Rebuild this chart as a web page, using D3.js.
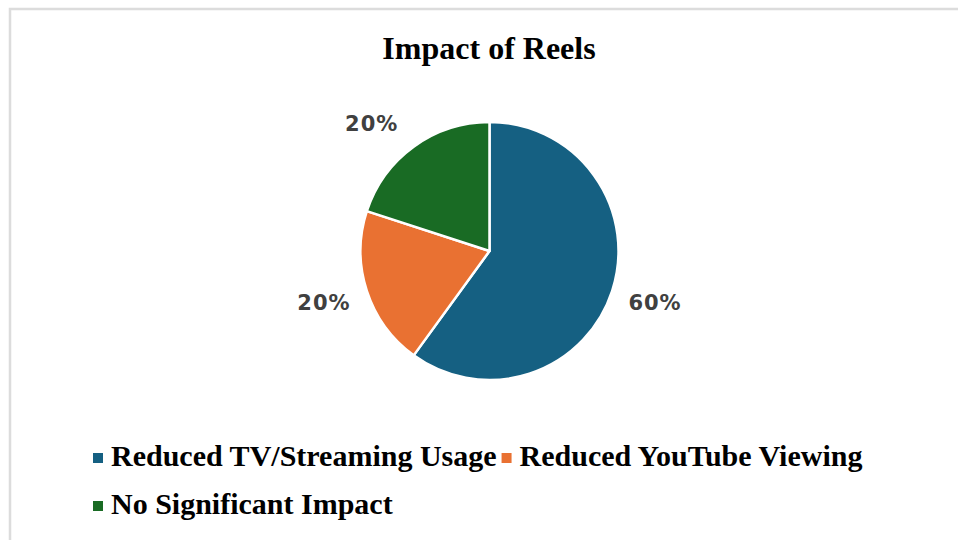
<!DOCTYPE html>
<html>
<head>
<meta charset="utf-8">
<script src="https://cdn.jsdelivr.net/npm/d3@7"></script>
<style>
  html, body { margin: 0; padding: 0; background: #fff; }
  svg { display: block; }
</style>
</head>
<body>
<svg id="chart" width="958" height="540"></svg>
<script>
const title = "Impact of Reels";
const categories = ["Reduced TV/Streaming Usage", "Reduced YouTube Viewing", "No Significant Impact"];
const values = [60, 20, 20];
const colors = ["#156082", "#E97132", "#196B24"];

const W = 958, H = 540;
const svg = d3.select("#chart");

// frame
svg.append("rect")
  .attr("x", 10).attr("y", 9)
  .attr("width", W + 10).attr("height", H + 10)
  .attr("fill", "#fff")
  .attr("stroke", "#dcdcdc").attr("stroke-width", 2.5);

// title
svg.append("text")
  .attr("x", 489).attr("y", 59)
  .attr("text-anchor", "middle")
  .attr("font-family", "Liberation Serif, Times New Roman, serif")
  .attr("font-weight", "bold")
  .attr("font-size", 32)
  .attr("fill", "#000")
  .text(title);

// pie
const cx = 489.5, cy = 251, R = 129;
const data = categories.map((c, i) => ({ name: c, value: values[i], color: colors[i] }));
const pie = d3.pie().value(d => d.value).sort(null);
const arcs = pie(data);
const arc = d3.arc().innerRadius(0).outerRadius(R);
const g = svg.append("g").attr("transform", `translate(${cx},${cy})`);

g.selectAll("path.slice").data(arcs).join("path")
  .attr("class", "slice")
  .attr("d", arc)
  .attr("fill", d => d.data.color)
  .attr("stroke", "#fff")
  .attr("stroke-width", 2.5)
  .attr("stroke-linejoin", "round");

// labels (outside end)
const labelR = 145;
const total = d3.sum(values);
g.selectAll("text.lbl").data(arcs).join("text")
  .attr("class", "lbl")
  .each(function(d) {
    const a = (d.startAngle + d.endAngle) / 2;
    const s = Math.sin(a), c = Math.cos(a);
    let x = labelR * s, y = -labelR * c;
    const t = d3.select(this);
    t.attr("text-anchor", s >= 0 ? "start" : "end");
    if (c > 0) { // upper half: text sits above the anchor
      x += s >= 0 ? 0 : -6;
      y -= 3;
    } else {     // lower half: text hangs below the anchor
      y += 14;
      x += s >= 0 ? 1 : -1;
    }
    t.attr("x", x).attr("y", y);
  })
  .attr("font-family", "DejaVu Sans, Verdana, sans-serif")
  .attr("font-weight", "bold")
  .attr("font-size", 21)
  .attr("letter-spacing", 1)
  .attr("fill", "#404040")
  .text(d => Math.round(d.data.value / total * 100) + "%");

// legend
const legendFont = "Liberation Serif, Times New Roman, serif";
const legendRows = [[0, 1], [2]];
const rowBaselines = [466, 514];
const legend = svg.append("g");
legendRows.forEach((row, ri) => {
  let x = 93;
  row.forEach(i => {
    legend.append("rect")
      .attr("x", x).attr("y", rowBaselines[ri] - 13)
      .attr("width", 10).attr("height", 10)
      .attr("fill", colors[i]);
    const t = legend.append("text")
      .attr("x", x + 18).attr("y", rowBaselines[ri])
      .attr("font-family", legendFont)
      .attr("font-weight", "bold")
      .attr("font-size", 30)
      .attr("fill", "#000")
      .text(categories[i]);
    x = x + 18 + t.node().getComputedTextLength() + 5;
  });
});
</script>
</body>
</html>
